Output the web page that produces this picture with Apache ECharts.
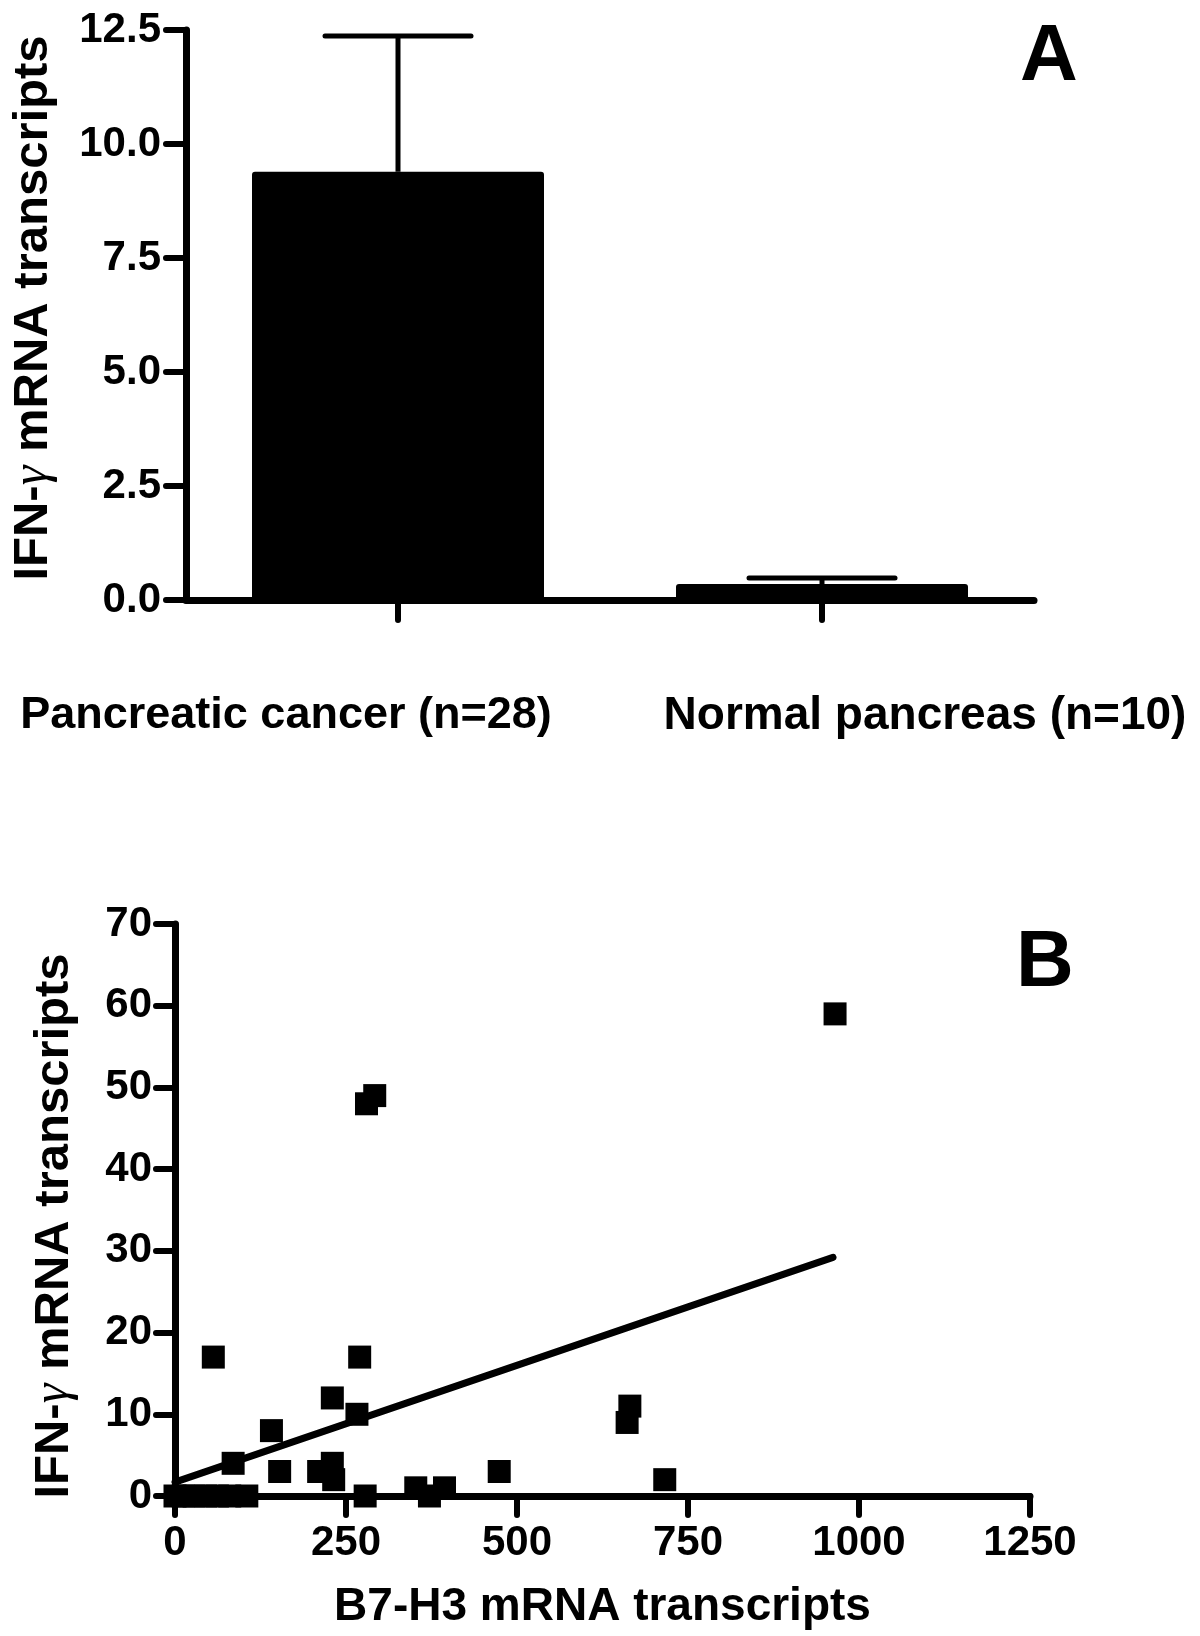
<!DOCTYPE html>
<html>
<head>
<meta charset="utf-8">
<script src="https://cdn.jsdelivr.net/npm/echarts@6/dist/echarts.min.js"></script>
<style>
html,body{margin:0;padding:0;background:#fff;}
#chart{width:1200px;height:1636px;}
</style>
</head>
<body>
<div id="chart"></div>
<script>
// Panel A data
const categories = ['Pancreatic cancer (n=28)', 'Normal pancreas (n=10)'];
const meanValues = [9.39, 0.35];
const upperValues = [12.37, 0.48];
// Panel B data
const b7h3 = [965, 280, 292, 56, 270, 230, 266, 141, 85, 153, 210, 230, 232, 474, 278, 352, 372, 394, 661, 665, 716, 0, 12, 28, 45, 62, 80, 105];
const ifng = [59, 48, 49, 17, 17, 12, 10, 8, 4, 3, 3, 4, 2, 3, 0, 1, 0, 1, 9, 11, 2, 0, 0, 0, 0, 0, 0, 0];
const fitX = [0, 962];
const fitY = [1.7, 29.2];

const FONT = "'Liberation Sans', Arial, Helvetica, sans-serif";
const chart = echarts.init(document.getElementById('chart'), null, {renderer: 'canvas', width: 1200, height: 1636});

const axisLineStyle = {color: '#000', width: 7, cap: 'round'};
const tickStyle = {color: '#000', width: 6, cap: 'round'};
const tickLabel = {color: '#000', fontFamily: FONT, fontWeight: 'bold', fontSize: 42};
function yNameStyle(pad) {
  return {
    color: '#000', fontFamily: FONT, fontWeight: 'bold', fontSize: 49, padding: pad,
    rich: {
      g: {fontFamily: "'Liberation Serif', 'DejaVu Serif', serif", fontStyle: 'italic', fontWeight: 'normal', fontSize: 50, color: '#000'}
    }
  };
}
const yName = 'IFN-{g|γ} mRNA transcripts';

const option = {
  animation: false,
  backgroundColor: '#fff',
  title: [
    {text: 'A', left: 1020, top: 18, padding: 0, textStyle: {fontFamily: FONT, fontWeight: 'bold', fontSize: 80, color: '#000'}},
    {text: 'B', left: 1016, top: 924, padding: 0, textStyle: {fontFamily: FONT, fontWeight: 'bold', fontSize: 80, color: '#000'}}
  ],
  grid: [
    {left: 180, top: 30, width: 854, height: 570},
    {left: 175, top: 924, width: 855, height: 572}
  ],
  xAxis: [
    {
      type: 'category', gridIndex: 0, data: categories, boundaryGap: true,
      axisLine: {show: true, lineStyle: axisLineStyle},
      axisTick: {show: true, alignWithLabel: true, length: 20, lineStyle: tickStyle},
      axisLabel: {
        interval: 0, margin: 93, color: '#000', fontFamily: FONT, fontWeight: 'bold', fontSize: 45,
        formatter: function (v, i) { return i === 0 ? '{l|' + v + '}' : '{r|' + v + '}'; },
        rich: {
          l: {fontFamily: FONT, fontWeight: 'bold', fontSize: 45, color: '#000', padding: [0, 224, 0, 0]},
          r: {fontFamily: FONT, fontWeight: 'bold', fontSize: 46, color: '#000', padding: [0, 0, 0, 206]}
        }
      },
      splitLine: {show: false}
    },
    {
      type: 'value', gridIndex: 1, min: 0, max: 1250, interval: 250,
      name: 'B7-H3 mRNA transcripts', nameLocation: 'middle', nameGap: 88,
      nameTextStyle: {color: '#000', fontFamily: FONT, fontWeight: 'bold', fontSize: 46},
      axisLine: {show: true, lineStyle: axisLineStyle},
      axisTick: {show: true, length: 19, lineStyle: tickStyle},
      axisLabel: Object.assign({margin: 26, formatter: function (v) { return String(v); }}, tickLabel),
      splitLine: {show: false}
    }
  ],
  yAxis: [
    {
      type: 'value', gridIndex: 0, min: 0, max: 12.5, interval: 2.5,
      name: yName, nameLocation: 'middle', nameGap: 128, nameRotate: 90,
      nameTextStyle: yNameStyle([0, 0, 0, 14]),
      axisLine: {show: true, lineStyle: axisLineStyle},
      axisTick: {show: true, length: 20, lineStyle: tickStyle},
      axisLabel: Object.assign({margin: 25, formatter: function (v) { return v.toFixed(1); }}, tickLabel),
      splitLine: {show: false}
    },
    {
      type: 'value', gridIndex: 1, min: 0, max: 70, interval: 10,
      name: yName, nameLocation: 'middle', nameGap: 96, nameRotate: 90,
      nameTextStyle: yNameStyle([0, 32, 0, 0]),
      axisLine: {show: true, lineStyle: axisLineStyle},
      axisTick: {show: true, length: 19, lineStyle: tickStyle},
      axisLabel: Object.assign({margin: 23}, tickLabel),
      splitLine: {show: false}
    }
  ],
  series: [
    {
      type: 'bar', xAxisIndex: 0, yAxisIndex: 0, data: meanValues, barWidth: 292,
      itemStyle: {color: '#000', borderRadius: 3}, z: 3
    },
    {
      type: 'custom', xAxisIndex: 0, yAxisIndex: 0, z: 2,
      data: categories.map(function (c, i) { return [i, meanValues[i], upperValues[i]]; }),
      renderItem: function (params, api) {
        const i = api.value(0);
        const pm = api.coord([i, api.value(1)]);
        const pu = api.coord([i, api.value(2)]);
        const half = 73;
        return {
          type: 'group',
          children: [
            {type: 'line', shape: {x1: pm[0], y1: pm[1], x2: pu[0], y2: pu[1]}, style: {stroke: '#000', lineWidth: 5}},
            {type: 'line', shape: {x1: pu[0] - half, y1: pu[1], x2: pu[0] + half, y2: pu[1]}, style: {stroke: '#000', lineWidth: 5, lineCap: 'round'}}
          ]
        };
      }
    },
    {
      type: 'scatter', xAxisIndex: 1, yAxisIndex: 1, clip: false,
      data: b7h3.map(function (x, i) { return [x, ifng[i]]; }),
      symbol: 'rect', symbolSize: 23, itemStyle: {color: '#000', opacity: 1}, z: 4
    },
    {
      type: 'line', xAxisIndex: 1, yAxisIndex: 1,
      data: fitX.map(function (x, i) { return [x, fitY[i]]; }),
      symbol: 'none', showSymbol: false,
      lineStyle: {color: '#000', width: 7, cap: 'round'}, z: 3
    }
  ]
};
chart.setOption(option);
</script>
</body>
</html>
